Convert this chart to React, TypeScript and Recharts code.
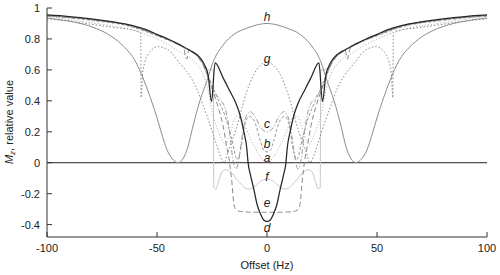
import React from "react";
import { LineChart, Line, XAxis, YAxis, ReferenceLine, ReferenceDot } from "recharts";

const FONT = "Liberation Sans, Arial, sans-serif";

const xTicks = [-100, -50, 0, 50, 100];
const yTicks = [-0.4, -0.2, 0, 0.2, 0.4, 0.6, 0.8, 1];

// h: solid grey
const hX = [-100, -90, -80, -70, -65, -60, -56, -53, -50, -47.5, -45.5, -43, -40.5, -38, -36, -33.5, -30.5, -27.4, -24.4, -20, -15, -9, -4, 0, 4, 9, 15, 20, 24.4, 27.4, 30.5, 33.5, 36, 38, 40.5, 43, 45.5, 47.5, 50, 53, 56, 60, 65, 70, 80, 90, 100];
const hY = [0.935, 0.915, 0.88, 0.81, 0.75, 0.66, 0.535, 0.42, 0.29, 0.17, 0.085, 0.025, 0, 0.03, 0.1, 0.245, 0.4, 0.525, 0.655, 0.76, 0.83, 0.87, 0.893, 0.9, 0.893, 0.87, 0.83, 0.76, 0.655, 0.525, 0.4, 0.245, 0.1, 0.03, 0, 0.025, 0.085, 0.17, 0.29, 0.42, 0.535, 0.66, 0.75, 0.81, 0.88, 0.915, 0.935];

// g: dotted
const gX = [-100, -90, -80, -70, -60, -58, -57.4, -57.2, -56.5, -55.5, -53, -49.5, -45, -39.5, -35, -32, -29, -26, -23, -20.5, -19.5, -18, -14, -9.2, -6, -3, 0, 3, 6, 9.2, 14, 18, 19.5, 20.5, 23, 26, 29, 32, 35, 39.5, 45, 49.5, 53, 55.5, 56.5, 57.2, 57.4, 58, 60, 70, 80, 90, 100];
const gY = [0.93, 0.915, 0.895, 0.875, 0.855, 0.845, 0.84, 0.42, 0.58, 0.65, 0.72, 0.75, 0.73, 0.64, 0.56, 0.48, 0.37, 0.25, 0.12, 0.02, 0, 0.06, 0.22, 0.46, 0.57, 0.63, 0.65, 0.63, 0.57, 0.46, 0.22, 0.06, 0, 0.02, 0.12, 0.25, 0.37, 0.48, 0.56, 0.64, 0.73, 0.75, 0.72, 0.65, 0.58, 0.42, 0.84, 0.845, 0.855, 0.875, 0.895, 0.915, 0.93];

// a: light dotted
const aX = [-100, -80, -62, -50, -40, -30, -27, -24.4, -22, -19, -16.5, -14, -12, -10, -7, -4, -2, 0, 2, 4, 7, 10, 12, 14, 16.5, 19, 22, 24.4, 27, 30, 40, 50, 62, 80, 100];
const aY = [0.945, 0.905, 0.86, 0.8, 0.72, 0.6, 0.48, 0.3, 0.2, 0.12, 0.2, 0.3, 0.3, 0.24, 0.14, 0.06, 0.02, 0.01, 0.02, 0.06, 0.14, 0.24, 0.3, 0.3, 0.2, 0.12, 0.2, 0.3, 0.48, 0.6, 0.72, 0.8, 0.86, 0.905, 0.945];

// b: short dashes
const bX = [-100, -80, -62, -50, -40, -30, -27, -25, -22, -19, -16, -13.5, -12, -10, -8, -5.5, -3, -1.5, 0, 1.5, 3, 5.5, 8, 10, 12, 13.5, 16, 19, 22, 25, 27, 30, 40, 50, 62, 80, 100];
const bY = [0.95, 0.92, 0.88, 0.82, 0.76, 0.66, 0.57, 0.5, 0.4, 0.3, 0.15, 0.02, 0.08, 0.25, 0.3, 0.26, 0.14, 0.08, 0.07, 0.08, 0.14, 0.26, 0.3, 0.25, 0.08, 0.02, 0.15, 0.3, 0.4, 0.5, 0.57, 0.66, 0.76, 0.82, 0.88, 0.92, 0.95];

// c: dash-dot
const cX = [-100, -80, -62, -50, -40, -30, -27, -25, -22, -19, -17, -15.5, -14, -12.5, -11, -9.5, -7.7, -5.5, -3, 0, 3, 5.5, 7.7, 9.5, 11, 12.5, 14, 15.5, 17, 19, 22, 25, 27, 30, 40, 50, 62, 80, 100];
const cY = [0.95, 0.925, 0.885, 0.825, 0.76, 0.66, 0.56, 0.48, 0.42, 0.35, 0.2, 0.02, -0.04, 0.05, 0.2, 0.3, 0.33, 0.3, 0.23, 0.2, 0.23, 0.3, 0.33, 0.3, 0.2, 0.05, -0.04, 0.02, 0.2, 0.35, 0.42, 0.48, 0.56, 0.66, 0.76, 0.825, 0.885, 0.925, 0.95];

// e: long dashes
const eX = [-100, -80, -62, -50, -45, -38, -36.5, -35.5, -30.5, -28, -26, -24, -22, -20, -18.5, -17, -16, -15.2, -14.3, -12, -6, 0, 6, 12, 14.3, 15.2, 16, 17, 18.5, 20, 22, 24, 26, 28, 30.5, 35.5, 36.5, 38, 45, 50, 62, 80, 100];
const eY = [0.95, 0.925, 0.885, 0.825, 0.795, 0.745, 0.67, 0.73, 0.665, 0.6, 0.52, 0.44, 0.35, 0.24, 0.12, 0, -0.12, -0.25, -0.3, -0.315, -0.32, -0.32, -0.32, -0.315, -0.3, -0.25, -0.12, 0, 0.12, 0.24, 0.35, 0.44, 0.52, 0.6, 0.665, 0.73, 0.67, 0.745, 0.795, 0.825, 0.885, 0.925, 0.95];

// f: light solid
const fX = [-100, -80, -62, -50, -40, -30, -28, -26, -24.4, -24.2, -23.2, -22, -20.5, -19, -16.5, -13, -8.5, -6, -3, 0, 3, 6, 8.5, 13, 16.5, 19, 20.5, 22, 23.2, 24.2, 24.4, 26, 28, 30, 40, 50, 62, 80, 100];
const fY = [0.95, 0.925, 0.885, 0.825, 0.76, 0.66, 0.62, 0.6, 0.6, -0.16, -0.17, -0.12, -0.06, -0.045, -0.06, -0.12, -0.17, -0.16, -0.12, -0.105, -0.12, -0.16, -0.17, -0.12, -0.06, -0.045, -0.06, -0.12, -0.17, -0.16, 0.6, 0.6, 0.62, 0.66, 0.76, 0.825, 0.885, 0.925, 0.95];

// d: black solid
const dX = [-100, -90, -80, -70, -62, -55, -50, -45, -40, -35, -30.5, -28, -26.8, -25.2, -23.6, -20, -16.8, -14, -12.3, -10.5, -9.2, -8.6, -7.5, -6, -4.5, -3, -1.5, 0, 1.5, 3, 4.5, 6, 7.5, 8.6, 9.2, 10.5, 12.3, 14, 16.8, 20, 23.6, 25.2, 26.8, 28, 30.5, 35, 40, 45, 50, 55, 62, 70, 80, 90, 100];
const dY = [0.955, 0.945, 0.93, 0.91, 0.89, 0.86, 0.83, 0.8, 0.765, 0.725, 0.68, 0.62, 0.57, 0.395, 0.645, 0.55, 0.46, 0.38, 0.31, 0.2, 0.095, 0, -0.08, -0.17, -0.27, -0.33, -0.37, -0.38, -0.37, -0.33, -0.27, -0.17, -0.08, 0, 0.095, 0.2, 0.31, 0.38, 0.46, 0.55, 0.645, 0.395, 0.57, 0.62, 0.68, 0.725, 0.765, 0.8, 0.83, 0.86, 0.89, 0.91, 0.93, 0.945, 0.955];

// curve letters placed at offset 0
const curveNames = ["h", "g", "c", "b", "a", "f", "e", "d"];
const curveLabelY = [0.945, 0.675, 0.25, 0.12, 0.035, -0.088, -0.26, -0.42];

const pts = (xs: number[], ys: number[]) => xs.map((x, i) => ({ x, y: ys[i] }));

const YLabel = () => (
  <text transform="translate(13,122) rotate(-90)" textAnchor="middle" fontSize={11} fill="#222" fontFamily={FONT}>
    <tspan fontStyle="italic">M</tspan>
    <tspan fontStyle="italic" fontSize={8} dy={2}>z</tspan>
    <tspan dy={-2}>, relative value</tspan>
  </text>
);

const series = [
  { key: "f", data: pts(fX, fY), stroke: "#c8c8c8", dash: undefined, width: 1 },
  { key: "a", data: pts(aX, aY), stroke: "#aaaaaa", dash: "1 2", width: 1 },
  { key: "b", data: pts(bX, bY), stroke: "#999999", dash: "3 2", width: 1 },
  { key: "c", data: pts(cX, cY), stroke: "#999999", dash: "5 2 1 2", width: 1 },
  { key: "e", data: pts(eX, eY), stroke: "#888888", dash: "5 3", width: 1 },
  { key: "g", data: pts(gX, gY), stroke: "#888888", dash: "1.5 2", width: 1 },
  { key: "h", data: pts(hX, hY), stroke: "#8c8c8c", dash: undefined, width: 1 },
  { key: "d", data: pts(dX, dY), stroke: "#262626", dash: undefined, width: 1.25 },
];

export default function App() {
  return (
    <div style={{ position: "absolute", left: 0, top: 0, width: 500, height: 275, background: "#fff" }}>
      <LineChart width={500} height={275} margin={{ top: 8, right: 13, bottom: 0, left: 0 }}>
        <XAxis
          type="number"
          dataKey="x"
          domain={[-100, 100]}
          ticks={xTicks}
          allowDataOverflow
          tickSize={-5}
          tickMargin={12}
          height={38}
          stroke="#333"
          tick={{ fill: "#222", fontSize: 11, fontFamily: FONT }}
          label={{ value: "Offset (Hz)", position: "insideBottom", offset: 6, fill: "#222", fontSize: 11, fontFamily: FONT }}
        />
        <XAxis
          xAxisId="top"
          orientation="top"
          type="number"
          domain={[-100, 100]}
          ticks={xTicks}
          allowDataOverflow
          tickSize={-5}
          height={0}
          stroke="#333"
          tick={false}
        />
        <YAxis
          type="number"
          domain={[-0.48, 1]}
          ticks={yTicks}
          allowDataOverflow
          tickSize={-5}
          tickMargin={12}
          width={47}
          stroke="#333"
          tick={{ fill: "#222", fontSize: 11, fontFamily: FONT }}
          label={<YLabel />}
        />
        <YAxis
          yAxisId="right"
          orientation="right"
          type="number"
          domain={[-0.48, 1]}
          ticks={yTicks}
          allowDataOverflow
          tickSize={-5}
          width={0}
          stroke="#333"
          tick={false}
        />
        <ReferenceLine y={0} stroke="#222" strokeWidth={1} />
        {series.map((s) => (
          <Line
            key={s.key}
            data={s.data}
            dataKey="y"
            type="monotone"
            stroke={s.stroke}
            strokeWidth={s.width}
            strokeDasharray={s.dash}
            dot={false}
            activeDot={false}
            isAnimationActive={false}
          />
        ))}
        {curveNames.map((n, i) => (
          <ReferenceDot
            key={n}
            x={0}
            y={curveLabelY[i]}
            r={0}
            fill="none"
            stroke="none"
            label={{ value: n, position: "center", fontStyle: "italic", fontSize: 12, fill: "#222", fontFamily: FONT }}
          />
        ))}
      </LineChart>
    </div>
  );
}
